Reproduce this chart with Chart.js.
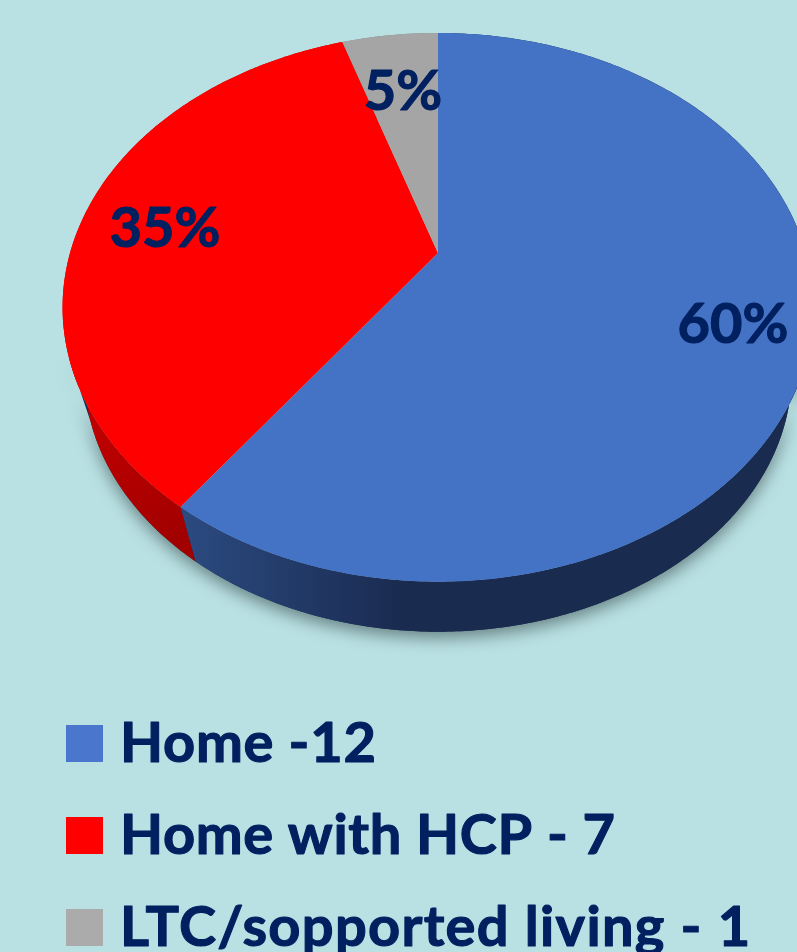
<!DOCTYPE html>
<html>
<head>
<meta charset="utf-8">
<title>Discharge destination</title>
<script src="https://cdn.jsdelivr.net/npm/chart.js@4/dist/chart.umd.min.js"></script>
<style>
  html, body { margin: 0; padding: 0; background: #b9e0e3; overflow: hidden; }
  canvas { display: block; }
</style>
</head>
<body>
<canvas id="pie" width="797" height="952"></canvas>
<script>
// values
const categories = ['Home', 'Home with HCP', 'LTC/sopported living'];
const counts = [12, 7, 1];
const legendLabels = ['Home -12', 'Home with HCP - 7', 'LTC/sopported living - 1'];
const sliceColors = ['#4472c4', '#ff0000', '#a5a5a5'];
const legendColors = ['#4a77cd', '#ff0000', '#ababab'];

// look of the tilted pie: apex of the slices, radii and perspective
const view = { x: 438, y: 253, a: 368, b: 263.6, k: 0.198, vanishY: 1444, depth: 0.058 };
const labelFont = 'bold 56px Lato';
const labelSpots = [[733, 343], [165, 247], [403, 110]];
const legendRows = [762, 854, 946];
const legendSpacing = ['0.75px', '0.6px', '1.3px'];        // lato runs narrower than the original face

function rim(angle) {                                       // point on the top face for a chart.js arc angle
  const X = Math.cos(angle), Y = -Math.sin(angle);
  const w = 1 + view.k * Y;
  return [view.x + view.a * X / w, view.y - view.b * Y / w];
}

function lower(p) {                                         // same point on the bottom edge of the wall
  return [p[0] + (view.x - p[0]) * view.depth, p[1] + (view.vanishY - p[1]) * view.depth];
}

function sweep(start, end) {
  const pts = [];
  const steps = Math.max(2, Math.ceil((end - start) / 0.01));
  for (let i = 0; i <= steps; i++) pts.push(rim(start + (end - start) * i / steps));
  return pts;
}

function wallPath(ctx, pts) {
  ctx.beginPath();
  pts.forEach((p, i) => i ? ctx.lineTo(p[0], p[1]) : ctx.moveTo(p[0], p[1]));
  pts.slice().reverse().forEach(p => { const q = lower(p); ctx.lineTo(q[0], q[1]); });
  ctx.closePath();
}

function topPath(ctx, pts) {
  ctx.beginPath();
  ctx.moveTo(view.x, view.y);
  pts.forEach(p => ctx.lineTo(p[0], p[1]));
  ctx.closePath();
}

function boldText(ctx, text, x, y) {                        // a little heavier than the plain bold face
  ctx.fillText(text, x, y);
  ctx.strokeText(text, x, y);
}

const tiltedPie = {
  id: 'tiltedPie',
  beforeDatasetDraw(chart, args) {
    const ctx = chart.ctx;
    const arcs = args.meta.data;
    const colors = chart.data.datasets[0].backgroundColor;

    // soft shadow, only under the front of the disc
    ctx.save();
    ctx.shadowColor = 'rgba(50, 70, 70, 0.6)';
    ctx.shadowBlur = 16;
    ctx.shadowOffsetY = 6;
    ctx.fillStyle = '#1a2b50';
    wallPath(ctx, sweep(-0.1, Math.PI * 0.88));
    ctx.fill();
    ctx.restore();

    // walls
    const blueWall = ctx.createLinearGradient(185, 0, 400, 0);
    blueWall.addColorStop(0, '#2b4a80');
    blueWall.addColorStop(1, '#1a2b50');
    const redWall = ctx.createLinearGradient(80, 380, 190, 540);
    redWall.addColorStop(0, '#c80000');
    redWall.addColorStop(1, '#a00000');
    const walls = [blueWall, redWall, '#7c7c7c'];
    arcs.forEach((arc, i) => {
      wallPath(ctx, sweep(arc.startAngle, arc.endAngle));
      ctx.fillStyle = walls[i];
      ctx.fill();
    });

    // top face
    arcs.forEach((arc, i) => {
      topPath(ctx, sweep(arc.startAngle, arc.endAngle));
      ctx.fillStyle = colors[i];
      ctx.fill();
    });
    return false;
  },
  afterDatasetsDraw(chart) {
    const ctx = chart.ctx;
    const total = counts.reduce((a, b) => a + b, 0);
    ctx.save();
    ctx.font = labelFont;
    ctx.fillStyle = '#002060';
    ctx.strokeStyle = '#002060';
    ctx.lineWidth = 1.1;
    ctx.lineJoin = 'round';
    ctx.textAlign = 'center';
    ctx.textBaseline = 'alphabetic';
    counts.forEach((v, i) => {
      boldText(ctx, Math.round(v / total * 100) + '%', labelSpots[i][0], labelSpots[i][1]);
    });

    // legend
    ctx.textAlign = 'left';
    legendLabels.forEach((label, i) => {
      ctx.letterSpacing = legendSpacing[i];
      ctx.fillStyle = legendColors[i];
      ctx.fillRect(66, legendRows[i] - 37, 37, 37);
      ctx.fillStyle = '#002060';
      boldText(ctx, label, 120, legendRows[i]);
    });
    ctx.restore();
  }
};

new Chart(document.getElementById('pie'), {
  type: 'pie',
  data: {
    labels: categories,
    datasets: [{ data: counts, backgroundColor: sliceColors, borderWidth: 0 }]
  },
  options: {
    responsive: false,
    animation: false,
    events: [],
    plugins: { legend: { display: false }, tooltip: { enabled: false } }
  },
  plugins: [tiltedPie]
});
</script>
</body>
</html>
